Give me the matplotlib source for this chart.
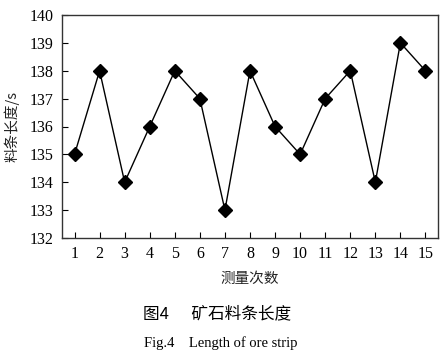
import matplotlib
matplotlib.use("Agg")
import matplotlib.pyplot as plt

x_vals = list(range(1, 16))
lengths = [135, 138, 134, 136, 138, 137, 133, 138, 136, 135, 137, 138, 134, 139, 138]
y_ticks = [132, 133, 134, 135, 136, 137, 138, 139, 140]

serif = ['Liberation Serif', 'DejaVu Serif']
cjk = ['Noto Sans CJK SC', 'Liberation Serif']

fig = plt.figure(figsize=(4.45, 3.56), dpi=100)
W, H = 445, 356
ax = fig.add_axes([62 / W, 1 - 238 / H, (438 - 62) / W, (238 - 15) / H])
ax.plot(x_vals, lengths, color='black', lw=1.0, marker='D', ms=7,
        markerfacecolor='black', markeredgecolor='black')
ax.set_xlim(0.5, 15.5)
ax.set_ylim(132, 140)
ax.set_xticks(x_vals)
ax.set_yticks(y_ticks)
ax.tick_params(direction='in', length=4, width=0.8, top=False, right=False,
               labelsize=11.5, pad=6)
for lab in ax.get_xticklabels() + ax.get_yticklabels():
    lab.set_family(serif)
for s in ax.spines.values():
    s.set_linewidth(1.0)
    s.set_color('#333333')

ax.set_xlabel('测量次数', family=cjk, fontsize=10.5, labelpad=7, color='#222222')
ax.set_ylabel('料条长度/s', family=cjk, fontsize=10.5, labelpad=7, color='#222222')

fig.text(217 / W, 1 - 314 / H, '图4      矿石料条长度', family=cjk, fontsize=12,
         ha='center', va='center')
fig.text(221 / W, 1 - 343 / H, 'Fig.4    Length of ore strip', family=serif,
         fontsize=10.5, ha='center', va='center')

fig.savefig('out.png', dpi=100)
